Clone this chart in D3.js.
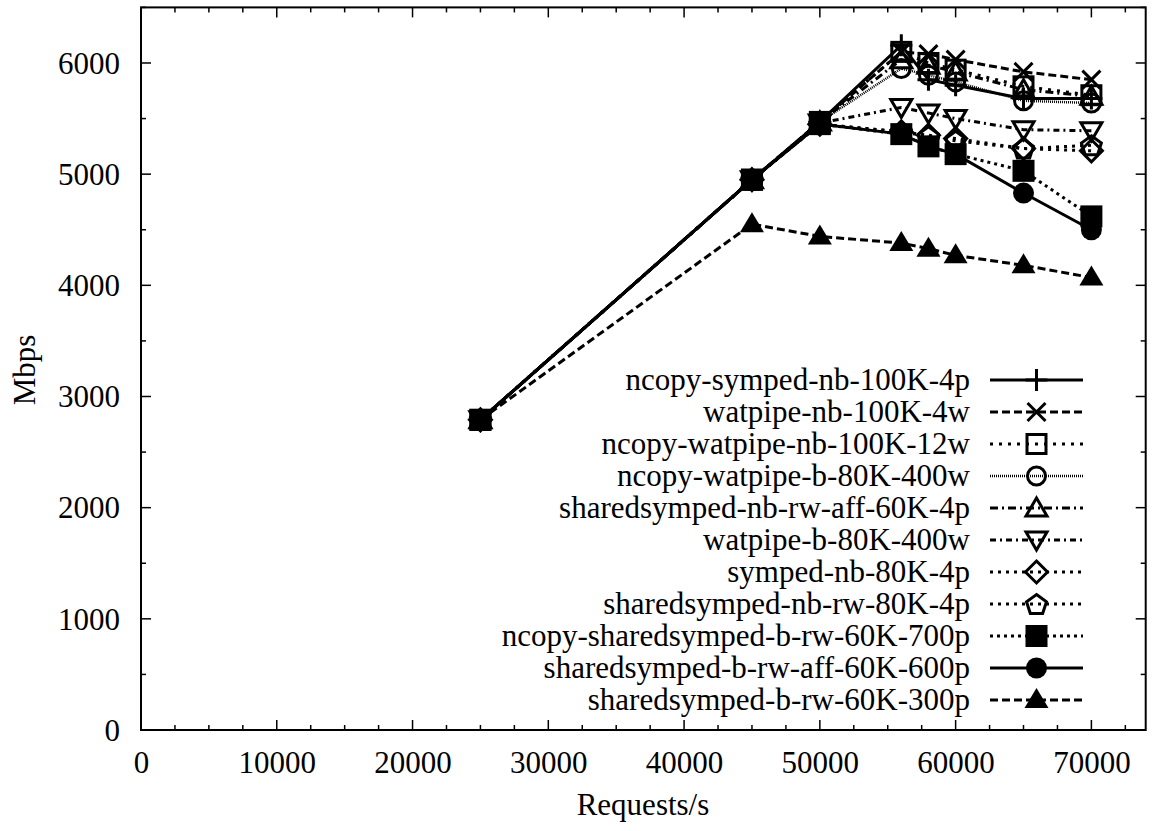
<!DOCTYPE html>
<html>
<head>
<meta charset="utf-8">
<script src="https://cdn.jsdelivr.net/npm/d3@7"></script>
<style>
  html, body { margin: 0; padding: 0; background: #fff; }
  svg { display: block; }
  text { font-family: "Liberation Serif", "DejaVu Serif", serif; fill: #000; }
</style>
</head>
<body>
<svg id="chart" width="1153" height="831"></svg>
<script>
// Offered load (requests per second) at which each configuration was measured
const requestRates = [25000, 45000, 50000, 56000, 58000, 60000, 65000, 70000];

// Throughput in Mbps for each configuration
const seriesNames = [
  "ncopy-symped-nb-100K-4p",
  "watpipe-nb-100K-4w",
  "ncopy-watpipe-nb-100K-12w",
  "ncopy-watpipe-b-80K-400w",
  "sharedsymped-nb-rw-aff-60K-4p",
  "watpipe-b-80K-400w",
  "symped-nb-80K-4p",
  "sharedsymped-nb-rw-80K-4p",
  "ncopy-sharedsymped-b-rw-60K-700p",
  "sharedsymped-b-rw-aff-60K-600p",
  "sharedsymped-b-rw-60K-300p"
];
const ncopySympedNb100K4p      = [2790, 4950, 5470, 6160, 5850, 5800, 5680, 5680];
const watpipeNb100K4w          = [2790, 4950, 5470, 6100, 6080, 6030, 5920, 5850];
const ncopyWatpipeNb100K12w    = [2790, 4950, 5470, 6100, 6000, 5940, 5790, 5710];
const ncopyWatpipeB80K400w     = [2790, 4950, 5470, 5950, 5890, 5830, 5660, 5640];
const sharedNbRwAff60K4p       = [2790, 4950, 5470, 6030, 5980, 5920, 5760, 5700];
const watpipeB80K400w          = [2790, 4950, 5460, 5600, 5550, 5500, 5400, 5390];
const sympedNb80K4p            = [2790, 4950, 5450, 5380, 5350, 5320, 5230, 5210];
const sharedNbRw80K4p          = [2790, 4950, 5450, 5380, 5340, 5300, 5230, 5260];
const ncopySharedBRw60K700p    = [2790, 4950, 5450, 5360, 5250, 5180, 5030, 4620];
const sharedBRwAff60K600p      = [2790, 4950, 5450, 5360, 5250, 5180, 4830, 4500];
const sharedBRw60K300p         = [2790, 4550, 4440, 4380, 4330, 4270, 4180, 4070];

const seriesValues = [
  ncopySympedNb100K4p, watpipeNb100K4w, ncopyWatpipeNb100K12w, ncopyWatpipeB80K400w,
  sharedNbRwAff60K4p, watpipeB80K400w, sympedNb80K4p, sharedNbRw80K4p,
  ncopySharedBRw60K700p, sharedBRwAff60K600p, sharedBRw60K300p
];

// Axis ticks
const xTickValues = [0, 10000, 20000, 30000, 40000, 50000, 60000, 70000];
const yTickValues = [0, 1000, 2000, 3000, 4000, 5000, 6000];

// Line dash pattern and point symbol per series
const dashes = [null, "8,4", "3,6", "1,1", "8,4,2,4", "6,4,2,4", "3,5", "3,5", "3,4", null, "8,4"];
const lineWidths = [3, 3, 3, 2.5, 3, 3, 3, 3, 3, 3, 3];
const symbols = ["plus", "cross", "square", "circle", "triangle", "triangleDown",
                 "diamond", "pentagon", "squareFilled", "circleFilled", "triangleFilled"];

const svg = d3.select("#chart");
const plotLeft = 141, plotRight = 1145.7, plotTop = 7.4, plotBottom = 730;

const x = d3.scaleLinear().domain([0, 74000]).range([plotLeft, plotRight]);
const y = d3.scaleLinear().domain([0, 6500]).range([plotBottom, plotTop]);

const FONT = 31;

// Minor/major ticks on all four sides (pointing inward)
function drawTicks() {
  const g = svg.append("g").attr("stroke", "#000").attr("stroke-width", 1.5);
  d3.range(0, 74000, 2500).forEach(v => {
    const len = v % 10000 === 0 ? 10 : 5;
    g.append("line").attr("x1", x(v)).attr("x2", x(v)).attr("y1", plotBottom).attr("y2", plotBottom - len);
    g.append("line").attr("x1", x(v)).attr("x2", x(v)).attr("y1", plotTop).attr("y2", plotTop + len);
  });
  d3.range(0, 6501, 500).forEach(v => {
    const len = v % 1000 === 0 ? 10 : 5;
    g.append("line").attr("x1", plotLeft).attr("x2", plotLeft + len).attr("y1", y(v)).attr("y2", y(v));
    g.append("line").attr("x1", plotRight).attr("x2", plotRight - len).attr("y1", y(v)).attr("y2", y(v));
  });
}
drawTicks();

// Tick labels through d3 axes (tick lines hidden)
const xAxis = d3.axisBottom(x).tickValues(xTickValues).tickSize(0).tickPadding(0).tickFormat(d3.format("d"));
const gx = svg.append("g").attr("transform", `translate(0,${plotBottom})`).call(xAxis);
gx.select(".domain").remove();
gx.selectAll("text").attr("font-size", FONT).attr("font-family", "Liberation Serif")
  .attr("dy", null).attr("y", 43);

const yAxis = d3.axisLeft(y).tickValues(yTickValues).tickSize(0).tickPadding(0).tickFormat(d3.format("d"));
const gy = svg.append("g").attr("transform", "translate(120,0)").call(yAxis);
gy.select(".domain").remove();
gy.selectAll("text").attr("font-size", FONT).attr("font-family", "Liberation Serif")
  .attr("x", 0).attr("dy", "0.33em");

// Frame
svg.append("rect").attr("x", plotLeft).attr("y", plotTop)
  .attr("width", plotRight - plotLeft).attr("height", plotBottom - plotTop)
  .attr("fill", "none").attr("stroke", "#000").attr("stroke-width", 2);

// Axis titles
svg.append("text").attr("x", 643).attr("y", 815).attr("text-anchor", "middle")
  .attr("font-size", FONT).text("Requests/s");
svg.append("text").attr("transform", "translate(35,370) rotate(-90)").attr("text-anchor", "middle")
  .attr("font-size", FONT).text("Mbps");

// Point symbols
const pentagonPts = d3.range(5).map(i => {
  const a = -Math.PI / 2 + i * 2 * Math.PI / 5;
  return [10.5 * Math.cos(a), 10.5 * Math.sin(a) + 1];
});
function drawSymbol(g, kind, cx, cy) {
  const s = g.append("g").attr("transform", `translate(${cx},${cy})`);
  const outline = sel => sel.attr("stroke", "#000").attr("stroke-width", 3).attr("fill", "none");
  switch (kind) {
    case "plus":
      outline(s.append("path").attr("d", "M-11,0H11M0,-11V11")); break;
    case "cross":
      outline(s.append("path").attr("d", "M-9,-9L9,9M-9,9L9,-9")); break;
    case "square":
      outline(s.append("rect").attr("x", -9.5).attr("y", -9.5).attr("width", 19).attr("height", 19)); break;
    case "circle":
      outline(s.append("circle").attr("r", 9)); break;
    case "triangle":
      outline(s.append("path").attr("d", "M0,-10L10.5,8L-10.5,8Z")); break;
    case "triangleDown":
      outline(s.append("path").attr("d", "M0,10L10.5,-8L-10.5,-8Z")); break;
    case "diamond":
      outline(s.append("path").attr("d", "M0,-11L11,0L0,11L-11,0Z")); break;
    case "pentagon":
      outline(s.append("path").attr("d", "M" + pentagonPts.join("L") + "Z")); break;
    case "squareFilled":
      s.append("rect").attr("x", -11).attr("y", -11).attr("width", 22).attr("height", 22).attr("fill", "#000"); break;
    case "circleFilled":
      s.append("circle").attr("r", 10.5).attr("fill", "#000"); break;
    case "triangleFilled":
      s.append("path").attr("d", "M0,-12L12,8L-12,8Z").attr("fill", "#000"); break;
  }
}

// Series lines and points
const line = d3.line().x((d, i) => x(requestRates[i])).y(d => y(d));
seriesValues.forEach((vals, k) => {
  const g = svg.append("g");
  g.append("path").attr("d", line(vals)).attr("fill", "none").attr("stroke", "#000")
    .attr("stroke-width", lineWidths[k]).attr("stroke-dasharray", dashes[k]);
  vals.forEach((v, i) => drawSymbol(g, symbols[k], x(requestRates[i]), y(v)));
});

// Legend
const legendTextX = 970, sampleX1 = 990, sampleX2 = 1083, legendY0 = 380, rowH = 32;
seriesNames.forEach((name, k) => {
  const ry = legendY0 + k * rowH;
  const g = svg.append("g");
  g.append("text").attr("x", legendTextX).attr("y", ry).attr("dy", "0.33em")
    .attr("text-anchor", "end").attr("font-size", FONT).text(name);
  g.append("line").attr("x1", sampleX1).attr("x2", sampleX2).attr("y1", ry).attr("y2", ry)
    .attr("stroke", "#000").attr("stroke-width", lineWidths[k]).attr("stroke-dasharray", dashes[k]);
  drawSymbol(g, symbols[k], (sampleX1 + sampleX2) / 2, ry);
});
</script>
</body>
</html>
